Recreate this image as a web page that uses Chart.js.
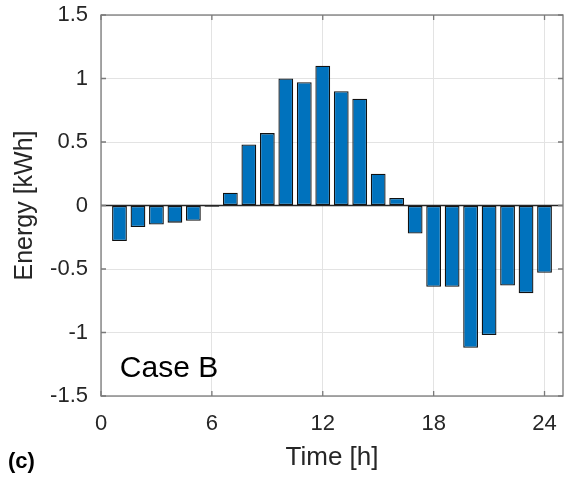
<!DOCTYPE html>
<html>
<head>
<meta charset="utf-8">
<script src="https://cdn.jsdelivr.net/npm/chart.js@4"></script>
<style>
  body { margin: 0; background: #fff; }
  canvas { display: block; }
</style>
</head>
<body>
<canvas id="chart" width="565" height="485"></canvas>
<script>
// hours 1..24 and the energy per hour
const hours = [1, 2, 3, 4, 5, 6, 7, 8, 9, 10, 11, 12,
               13, 14, 15, 16, 17, 18, 19, 20, 21, 22, 23, 24];
const energy = [-0.28, -0.17, -0.15, -0.135, -0.12, -0.01, 0.10, 0.48, 0.57, 1.00, 0.97, 1.10,
                0.90, 0.84, 0.25, 0.06, -0.22, -0.64, -0.64, -1.12, -1.02, -0.63, -0.69, -0.53];
const xTicks = [0, 6, 12, 18, 24];
const yTicks = [-1.5, -1, -0.5, 0, 0.5, 1, 1.5];

const FONT = "'Liberation Sans', Arial, sans-serif";
const TEXT = "#262626";

// box, inner tick marks, zero line and the two text labels
const frame = {
    id: "frame",
    afterDatasetsDraw(chart) {
        const ctx = chart.ctx;
        const a = chart.chartArea;
        const x = chart.scales.x;
        const y = chart.scales.y;
        ctx.save();

        // baseline at 0
        ctx.strokeStyle = TEXT;
        ctx.lineWidth = 1.3;
        ctx.beginPath();
        ctx.moveTo(a.left, y.getPixelForValue(0));
        ctx.lineTo(a.right, y.getPixelForValue(0));
        ctx.stroke();

        // box
        ctx.strokeStyle = "#7a7a7a";
        ctx.lineWidth = 1.3;
        ctx.strokeRect(a.left, a.top, a.right - a.left, a.bottom - a.top);

        // ticks pointing inward
        ctx.beginPath();
        xTicks.forEach(v => {
            const px = x.getPixelForValue(v);
            ctx.moveTo(px, a.bottom); ctx.lineTo(px, a.bottom - 5);
            ctx.moveTo(px, a.top); ctx.lineTo(px, a.top + 5);
        });
        yTicks.forEach(v => {
            const py = y.getPixelForValue(v);
            ctx.moveTo(a.left, py); ctx.lineTo(a.left + 5, py);
            ctx.moveTo(a.right, py); ctx.lineTo(a.right - 5, py);
        });
        ctx.stroke();

        ctx.fillStyle = "#000";
        ctx.font = "30px " + FONT;
        ctx.textBaseline = "alphabetic";
        ctx.textAlign = "left";
        ctx.fillText("Case B", x.getPixelForValue(1.02), y.getPixelForValue(-1.35));

        ctx.font = "bold 22px " + FONT;
        ctx.textBaseline = "middle";
        ctx.fillText("(c)", 8, 462);
        ctx.restore();
    }
};

// drop the extra room Chart.js keeps for edge labels
function noPad(s) {
    s.paddingTop = 0;
    s.paddingBottom = 0;
    s.paddingLeft = 0;
    s.paddingRight = 0;
}

new Chart(document.getElementById("chart"), {
    type: "bar",
    data: {
        datasets: [{
            data: hours.map((h, i) => ({ x: h, y: energy[i] })),
            backgroundColor: "#0072BD",
            borderColor: "#111",
            borderWidth: 1.3,
            borderSkipped: false,
            barPercentage: 0.8,
            categoryPercentage: 1
        }]
    },
    options: {
        responsive: false,
        animation: false,
        layout: { padding: { top: 15, right: 2 } },
        plugins: {
            legend: { display: false },
            tooltip: { enabled: false }
        },
        scales: {
            x: {
                type: "linear",
                min: 0,
                max: 25,
                offset: false,
                afterBuildTicks: s => { s.ticks = xTicks.map(v => ({ value: v })); },
                afterFit: s => { s.height = 89; noPad(s); },
                border: { display: false },
                grid: { color: "#e3e3e3", drawTicks: false, offset: false },
                ticks: { color: TEXT, font: { family: FONT, size: 22 }, padding: 15, maxRotation: 0,
                         callback: v => String(v) },
                title: {
                    display: true,
                    text: "Time [h]",
                    color: TEXT,
                    font: { family: FONT, size: 26 },
                    padding: { top: 0, bottom: 12 }
                }
            },
            y: {
                min: -1.5,
                max: 1.5,
                afterBuildTicks: s => { s.ticks = yTicks.map(v => ({ value: v })); },
                afterFit: s => { s.width = 101; noPad(s); },
                border: { display: false },
                grid: { color: "#e3e3e3", drawTicks: false },
                ticks: { color: TEXT, font: { family: FONT, size: 22 }, padding: 13,
                         callback: v => String(v) },
                title: {
                    display: true,
                    text: "Energy [kWh]",
                    color: TEXT,
                    font: { family: FONT, size: 25 },
                    padding: { top: 10, bottom: 0 }
                }
            }
        }
    },
    plugins: [frame]
});
</script>
</body>
</html>
